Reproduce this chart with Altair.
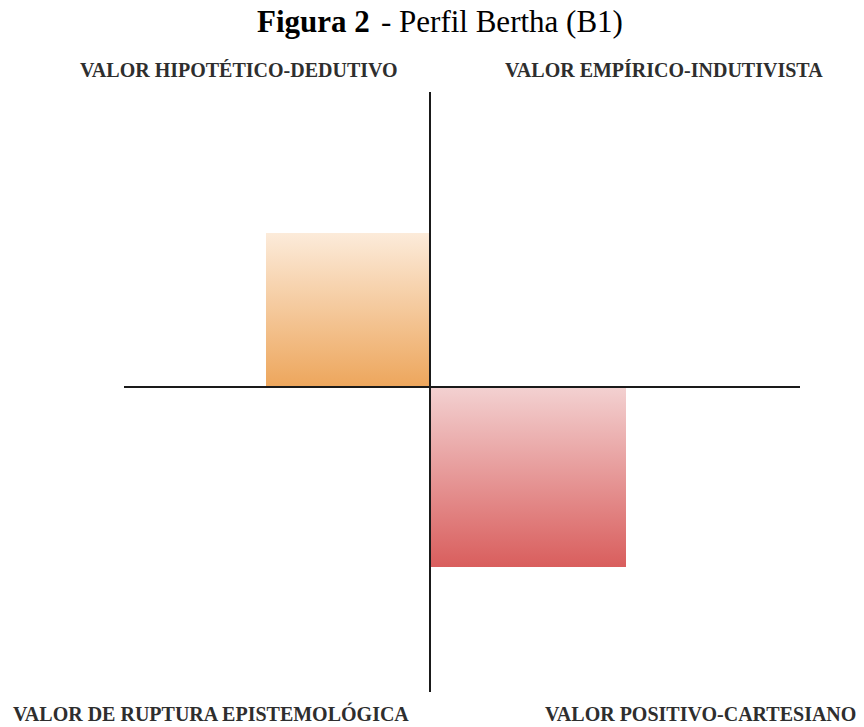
import altair as alt
import pandas as pd

# --- data ---
quadrant_labels = [
    "VALOR HIPOTÉTICO-DEDUTIVO",
    "VALOR EMPÍRICO-INDUTIVISTA",
    "VALOR DE RUPTURA EPISTEMOLÓGICA",
    "VALOR POSITIVO-CARTESIANO",
]
bar_names = ["Hipotético-dedutivo", "Positivo-cartesiano"]
bar_x0 = [-164, 0]
bar_x1 = [0, 196]
bar_y0 = [0, -180]
bar_y1 = [154, 0]

axis_h_x = [-306, 370]
axis_v_y = [-305, 295]

# --- layout ---
W, H = 848, 716
X_DOMAIN = [-422, 426]
Y_DOMAIN = [379 - H, 379]

xs = alt.Scale(domain=X_DOMAIN, nice=False, zero=False)
ys = alt.Scale(domain=Y_DOMAIN, nice=False, zero=False)

bars = pd.DataFrame({"name": bar_names, "x0": bar_x0, "x1": bar_x1, "y0": bar_y0, "y1": bar_y1})

def grad(top, bottom):
    return alt.Gradient(
        gradient="linear",
        stops=[alt.GradientStop(color=top, offset=0), alt.GradientStop(color=bottom, offset=1)],
        x1=0, x2=0, y1=0, y2=1,
    )

base_enc = dict(
    x=alt.X("x0:Q", scale=xs, axis=None),
    x2="x1:Q",
    y=alt.Y("y0:Q", scale=ys, axis=None),
    y2="y1:Q",
)

orange = alt.Chart(bars).transform_filter(alt.datum.name == bar_names[0]).mark_rect(
    color=grad("#FCEBDA", "#EDA65C")
).encode(**base_enc)
red = alt.Chart(bars).transform_filter(alt.datum.name == bar_names[1]).mark_rect(
    color=grad("#F3D1D1", "#D95E5D")
).encode(**base_enc)

hline = alt.Chart(pd.DataFrame({"x0": [axis_h_x[0]], "x1": [axis_h_x[1]], "y": [0]})).mark_rule(
    color="#1a1a1a", strokeWidth=2
).encode(x=alt.X("x0:Q", scale=xs, axis=None), x2="x1:Q", y=alt.Y("y:Q", scale=ys, axis=None))
vline = alt.Chart(pd.DataFrame({"y0": [axis_v_y[0]], "y1": [axis_v_y[1]], "x": [0]})).mark_rule(
    color="#1a1a1a", strokeWidth=2
).encode(y=alt.Y("y0:Q", scale=ys, axis=None), y2="y1:Q", x=alt.X("x:Q", scale=xs, axis=None))

label_font = dict(font="Liberation Serif", fontWeight="bold", fontSize=20, color="#2e2e2e",
                  align="left", baseline="alphabetic")
label_pos = [(72, 69), (497, 69), (5, 713), (537, 713)]  # pixel positions in plot area
labels = [
    alt.Chart(pd.DataFrame({"t": [quadrant_labels[i]]})).mark_text(**label_font).encode(
        text="t:N", x=alt.value(label_pos[i][0]), y=alt.value(label_pos[i][1])
    )
    for i in range(4)
]

title_bold = alt.Chart(pd.DataFrame({"t": ["Figura 2"]})).mark_text(
    font="Liberation Serif", fontWeight="bold", fontSize=31, color="#000000", align="left", baseline="alphabetic"
).encode(text="t:N", x=alt.value(249), y=alt.value(24))
title_rest = alt.Chart(pd.DataFrame({"t": ["- Perfil Bertha (B1)"]})).mark_text(
    font="Liberation Serif", fontSize=31, color="#000000", align="left", baseline="alphabetic"
).encode(text="t:N", x=alt.value(373), y=alt.value(24))

chart = alt.layer(orange, red, hline, vline, *labels, title_bold, title_rest).properties(
    width=W, height=H, padding=0, autosize=alt.AutoSizeParams(type="none")
).configure_view(stroke=None)

chart.save("out.html", embed_options={"renderer": "svg", "actions": False})
